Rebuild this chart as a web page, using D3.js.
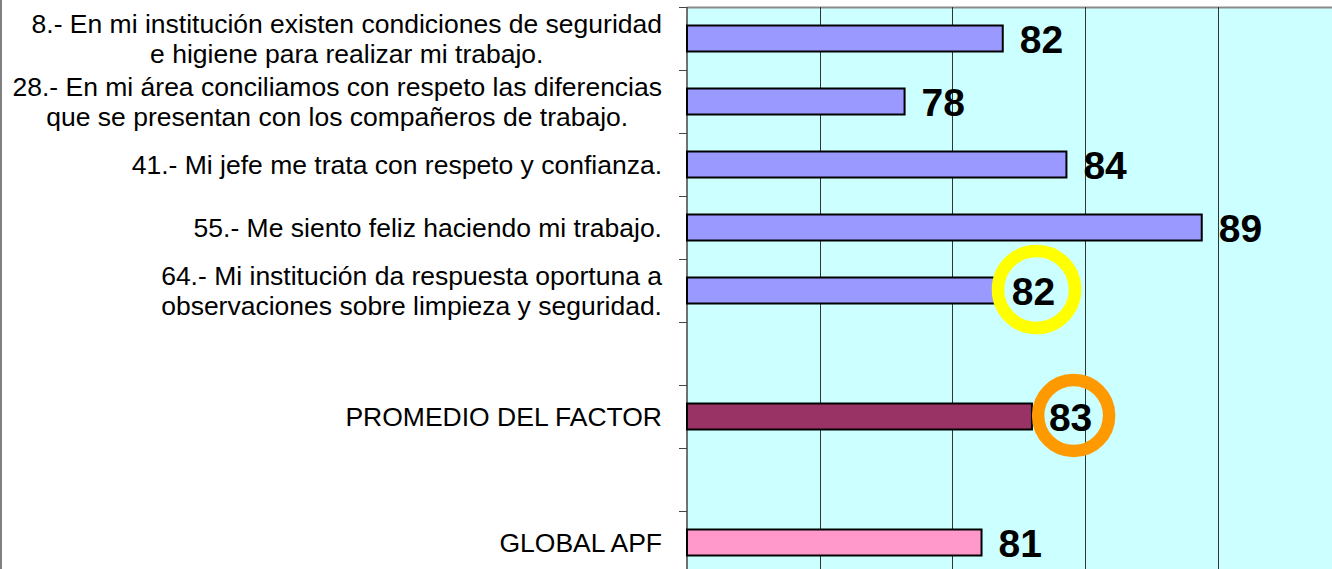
<!DOCTYPE html>
<html>
<head>
  <meta charset="utf-8">
  <title>Factor - resultados por reactivo</title>
  <script src="https://d3js.org/d3.v7.min.js"></script>
  <style>
    body { margin: 0; background: #fff; }
    text { font-family: Arial, "Liberation Sans", sans-serif; }
  </style>
</head>
<body>
  <svg id="grafico"></svg>

  <script>
    // datos (una fila por renglón de la gráfica, los vacíos son separadores)
    const categories = [
      "8.- En mi institución existen condiciones de seguridad|e higiene para realizar mi trabajo.",
      "28.- En mi área conciliamos con respeto las diferencias|que se presentan con los compañeros de trabajo.",
      "41.- Mi jefe me trata con respeto y confianza.",
      "55.- Me siento feliz haciendo mi trabajo.",
      "64.- Mi institución da respuesta oportuna a|observaciones sobre limpieza y seguridad.",
      "",
      "PROMEDIO DEL FACTOR",
      "",
      "GLOBAL APF"
    ];
    const values = [81.9, 78.2, 84.3, 89.4, 81.6, null, 83.0, null, 81.1];
    const seriesKind = ["reactivo", "reactivo", "reactivo", "reactivo", "reactivo", null, "promedio", null, "global"];
    const circled = [4, 6];
    const gridTicks = [75, 80, 85, 90, 95];

    const width = 1332;
    const height = 569;
    const plotLeft = 687, plotTop = 7;
    const plotBottom = 574;

    const fillColor = { reactivo: "#9999ff", promedio: "#993366", global: "#ff99cc" };
    const ringColor = { 4: "#ffff00", 6: "#ff9900" };

    const svg = d3.select("#grafico")
      .attr("width", width)
      .attr("height", height);

    const x = d3.scaleLinear()
      .domain([70, 100])
      .range([plotLeft, plotLeft + 796]);

    const y = d3.scaleBand()
      .domain(d3.range(categories.length))
      .range([plotTop, plotBottom])
      .padding(0);

    const barH = 26;

    // borde gris del área del gráfico
    svg.append("rect")
      .attr("x", 0).attr("y", 0)
      .attr("width", 2).attr("height", height)
      .attr("fill", "#808080");

    // fondo del área de trazado
    svg.append("rect")
      .attr("x", plotLeft)
      .attr("y", plotTop)
      .attr("width", x(100) - plotLeft)
      .attr("height", plotBottom - plotTop)
      .attr("fill", "#ccffff");

    svg.append("line")
      .attr("x1", plotLeft).attr("x2", x(100))
      .attr("y1", plotTop + 0.5).attr("y2", plotTop + 0.5)
      .attr("stroke", "#8a8a8a")
      .attr("stroke-width", 2);

    // líneas de división verticales
    svg.append("g")
      .selectAll("line")
      .data(gridTicks)
      .join("line")
      .attr("x1", d => Math.round(x(d)) + 0.5)
      .attr("x2", d => Math.round(x(d)) + 0.5)
      .attr("y1", plotTop)
      .attr("y2", plotBottom)
      .attr("stroke", "#333")
      .attr("stroke-width", 1);

    // eje vertical con marcas entre categorías
    svg.append("line")
      .attr("x1", plotLeft).attr("x2", plotLeft)
      .attr("y1", plotTop).attr("y2", plotBottom)
      .attr("stroke", "#444")
      .attr("stroke-width", 1.5);

    svg.append("g")
      .selectAll("line")
      .data(d3.range(categories.length + 1))
      .join("line")
      .attr("x1", plotLeft - 8)
      .attr("x2", plotLeft)
      .attr("y1", i => plotTop + i * y.step() + 0.5)
      .attr("y2", i => plotTop + i * y.step() + 0.5)
      .attr("stroke", "#444")
      .attr("stroke-width", 1);

    const rows = d3.range(categories.length).filter(i => values[i] != null);

    // barras
    svg.append("g")
      .selectAll("rect")
      .data(rows)
      .join("rect")
      .attr("x", plotLeft)
      .attr("y", i => y(i) + (y.bandwidth() - barH) / 2)
      .attr("width", i => x(values[i]) - plotLeft)
      .attr("height", barH)
      .attr("fill", i => fillColor[seriesKind[i]])
      .attr("stroke", "#000")
      .attr("stroke-width", 2);

    // etiquetas de categoría (multilínea centrada, bloque alineado a la derecha)
    const labelRight = plotLeft - 25;
    const lineGap = 30;
    categories.forEach((c, i) => {
      if (!c) return;
      const lines = c.split("|");
      const t = svg.append("text")
        .attr("font-size", "26.5px")
        .attr("fill", "#000")
        .attr("text-anchor", "middle");
      const cy = y(i) + y.bandwidth() / 2;
      const spans = lines.map((ln, k) => t.append("tspan")
        .attr("y", cy + (k - (lines.length - 1) / 2) * lineGap + 9.5)
        .text(ln));
      const maxW = d3.max(spans, s => s.node().getComputedTextLength());
      spans.forEach(s => s.attr("x", labelRight - maxW / 2));
    });

    // etiquetas de valor y círculos de resalte
    const fmt = d3.format(".0f");
    const lbl = svg.append("g");
    rows.forEach(i => {
      const cy = y(i) + y.bandwidth() / 2;
      const t = lbl.append("text")
        .attr("x", x(values[i]) + 17)
        .attr("y", cy + 14)
        .attr("font-size", "39px")
        .attr("font-weight", "bold")
        .attr("fill", "#000")
        .text(fmt(values[i]));
      if (circled.includes(i)) {
        const w = t.node().getComputedTextLength();
        svg.insert("circle", "g:last-of-type")
          .attr("cx", x(values[i]) + 17 + w / 2 + 3)
          .attr("cy", cy - 1)
          .attr("r", i === 4 ? 38.5 : 35.5)
          .attr("fill", "none")
          .attr("stroke", ringColor[i])
          .attr("stroke-width", 12.5);
      }
    });
  </script>
</body>
</html>
